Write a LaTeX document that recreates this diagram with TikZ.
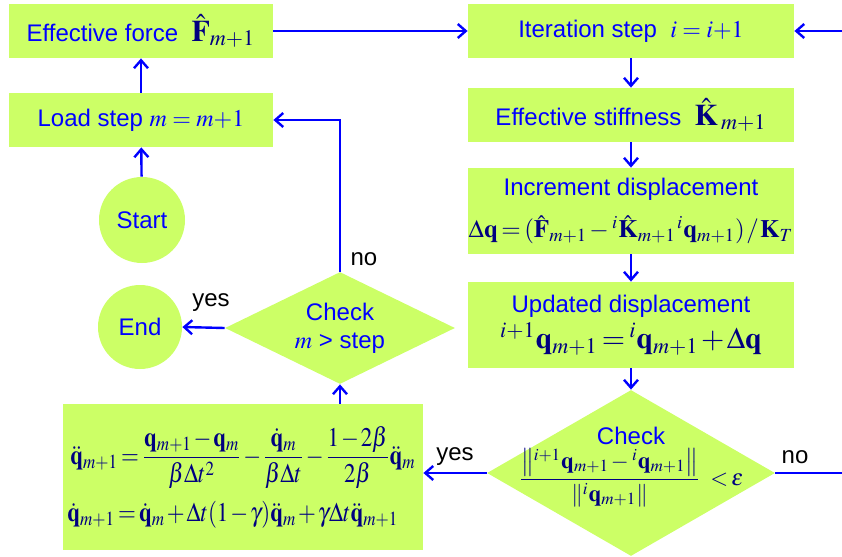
\documentclass[tikz,border=0pt]{standalone}
\usepackage{graphicx}
\usepackage{mathptmx}
\usepackage[no-math]{fontspec}
\setmainfont{Liberation Sans}
\usetikzlibrary{shapes.geometric,arrows.meta}
\definecolor{boxgreen}{RGB}{204,255,102}
\definecolor{flowblue}{RGB}{0,0,255}
\definecolor{eqnavy}{RGB}{0,0,128}
\tikzset{
  stepbox/.style={fill=boxgreen,text=flowblue,inner sep=0pt,align=center,
    font=\fontsize{12}{14}\selectfont},
  roundbox/.style={stepbox,circle},
  checkbox/.style={stepbox,diamond,aspect=2},
  link/.style={draw=flowblue,line width=1.2pt,-{Straight Barb[length=4pt,width=7pt]}},
  answer/.style={font=\fontsize{12}{14}\selectfont,text=black}
}
\newcommand{\vb}[1]{\mathbf{#1}}
\newcommand{\eqsize}[1]{\fontsize{#1}{#1}\selectfont
  \thinmuskip=1mu\medmuskip=1.5mu plus 1mu\thickmuskip=2.5mu plus 1mu\color{eqnavy}}

\begin{document}
\begin{tikzpicture}[x=0.5pt,y=-0.5pt]
  \useasboundingbox (0,0) rectangle (842,557);
  % left column
  \draw(141,31) node[stepbox,minimum width=132pt,minimum height=27pt] (force)
    {Effective force \ {\eqsize{15}$\hat{\vb F}_{m+1}$}};
  \draw(141,120) node[stepbox,minimum width=132pt,minimum height=27pt] (load)
    {Load step $m = m{+}1$};
  \draw(142,220) node[roundbox,minimum size=43pt] (start) {Start};
  \draw(140,327) node[roundbox,minimum size=42pt] (end) {End};
  \draw(340,328) node[checkbox,minimum width=115pt,minimum height=56pt] (checkm)
    {Check\\ $m$ > step};
  \draw(243,477) node[stepbox,minimum width=180pt,minimum height=73pt] (newmark)
    {\scalebox{0.85}[1]{\eqsize{13.5}$\displaystyle\ddot{\vb q}_{m+1} = \frac{\vb q_{m+1}-\vb q_m}{\beta\Delta t^2}
      - \frac{\dot{\vb q}_m}{\beta\Delta t} - \frac{1-2\beta}{2\beta}\ddot{\vb q}_m$}\\[5pt]
     \scalebox{0.85}[1]{\eqsize{13.5}$\dot{\vb q}_{m+1} = \dot{\vb q}_m + \Delta t(1-\gamma)\ddot{\vb q}_m
      + \gamma\Delta t\ddot{\vb q}_{m+1}$\hspace*{12pt}}};
  % right column
  \draw(631,31) node[stepbox,minimum width=163pt,minimum height=27pt] (iter)
    {Iteration step \ $i = i{+}1$};
  \draw(631,115) node[stepbox,minimum width=163pt,minimum height=27pt] (stiff)
    {Effective stiffness \ {\eqsize{15}$\hat{\vb K}_{\;m+1}$}};
  \draw(631,211) node[stepbox,minimum width=163pt,minimum height=43pt] (incr)
    {Increment displacement\\[7pt]
     {\eqsize{12.5}$\Delta\vb q = (\hat{\vb F}_{m+1} -\, {}^{i}\hat{\vb K}_{m+1}\,{}^{i}\vb q_{m+1})\,/\,\vb K_T$}};
  \draw(631,325) node[stepbox,minimum width=163pt,minimum height=43pt] (upd)
    {Updated displacement\\[2pt]
     {\eqsize{15}${}^{i+1}\vb q_{m+1} = {}^{i}\vb q_{m+1} + \Delta\vb q$}};
  \draw(631,473) node[checkbox,minimum width=144pt,minimum height=83pt] (checkq) {};
  \node[text=flowblue,align=center,font=\fontsize{12}{14}\selectfont] (checkqtext) at (631,467)
    {Check\\[1pt]
     {\eqsize{11.5}$\displaystyle\frac{\left\|{}^{i+1}\vb q_{m+1} -\, {}^{i}\vb q_{m+1}\right\|}
       {\left\|{}^{i}\vb q_{m+1}\right\|}\ <\varepsilon$}};
  \coordinate (outside) at (847,473);
  % connectors
  \draw[link] (start) -- (load);
  \draw[link] (load) -- (force);
  \draw[link] (force) -- (iter);
  \draw[link] (iter) -- (stiff);
  \draw[link] (stiff) -- (incr);
  \draw[link] (incr) -- (upd);
  \draw[link] (upd) -- (checkq);
  \draw[link] (checkq.west) -- (checkq.west -| newmark.east);
  \draw[link] (checkm.south |- newmark.north) -- (checkm.south);
  \draw[link] (checkm.west) -- (end.east);
  \draw[link] (checkm.north) |- (load.east);
  \draw[link] (checkq.east) -- (outside) |- (iter.east);
  \node[answer] (yesq) at (455,457) {yes};
  \node[answer] (noq) at (795,457) {no};
  \node[answer] (yesm) at (211,303) {yes};
  \node[answer] (nom) at (364,259) {no};
\end{tikzpicture}
\end{document}
